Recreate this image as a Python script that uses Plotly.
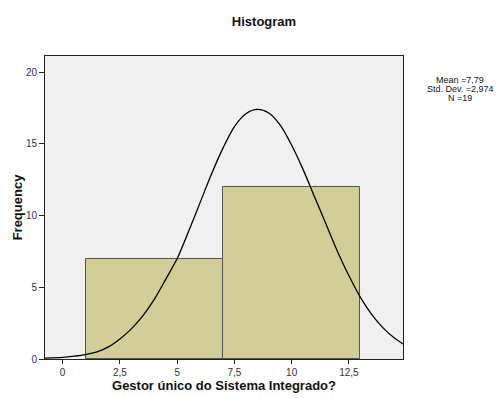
import plotly.graph_objects as go

# ---- data ----
bin_centers = [4.0, 10.0]
bin_width = 6.0
frequencies = [7, 12]

curve_x = [-0.77, 0.0, 0.5, 1.0, 1.5, 2.0, 2.5, 3.0, 3.5, 4.0, 4.5, 5.0, 5.5, 6.0, 6.5,
           7.0, 7.5, 8.0, 8.5, 9.0, 9.5, 10.0, 10.5, 11.0, 11.5, 12.0, 12.5, 13.0, 13.5,
           14.0, 14.5, 14.86]
curve_y = [0.06, 0.12, 0.2, 0.31, 0.5, 0.85, 1.4, 2.1, 3.0, 4.15, 5.55, 7.0, 8.9, 10.9, 12.9,
           14.7, 16.2, 17.1, 17.4, 17.15, 16.3, 14.9, 13.2, 11.3, 9.4, 7.5, 5.8, 4.3, 3.1,
           2.15, 1.44, 1.05]

x_tickvals = [0, 2.5, 5, 7.5, 10, 12.5]
x_ticktext = ["0", "2,5", "5", "7,5", "10", "12,5"]
y_tickvals = [0, 5, 10, 15, 20]

stats_lines = ["Mean =7,79", "Std. Dev. =2,974", "N =19"]

FONT = "Liberation Sans, Arial, sans-serif"

fig = go.Figure()
fig.add_trace(go.Bar(
    x=bin_centers, y=frequencies, width=[bin_width] * len(bin_centers),
    marker=dict(color="#D3CE98", line=dict(color="#555555", width=1)),
    hoverinfo="skip", showlegend=False,
))
fig.add_trace(go.Scatter(
    x=curve_x, y=curve_y, mode="lines",
    line=dict(color="#000000", width=1.3, shape="spline", smoothing=0.8),
    hoverinfo="skip", showlegend=False,
))

W, H = 502, 398
ml, mr, mt, mb = 45, 99, 56, 39

fig.update_layout(
    width=W, height=H,
    margin=dict(l=ml, r=mr, t=mt, b=mb, pad=0),
    paper_bgcolor="white", plot_bgcolor="#F0F0F0",
    bargap=0,
    font=dict(family=FONT, color="#222222", size=10),
    title=dict(text="<b>Histogram</b>", x=264 / W, xref="container", xanchor="center",
               y=1 - 21 / H, yref="container", yanchor="middle",
               font=dict(size=13, color="#111111", family=FONT)),
    xaxis=dict(range=[-0.77, 14.86], tickvals=x_tickvals, ticktext=x_ticktext,
               ticks="outside", ticklen=4, tickcolor="#222222", showgrid=False,
               zeroline=False, showline=True, linecolor="#222222", linewidth=1, mirror=True,
               tickfont=dict(size=10, color="#333333"), automargin=False,
               title=dict(text="<b>Gestor único do Sistema Integrado?</b>", standoff=3,
                          font=dict(size=13, color="#111111"))),
    yaxis=dict(range=[0, 21.12], tickvals=y_tickvals,
               ticks="outside", ticklen=5, tickcolor="#222222", showgrid=False,
               zeroline=False, showline=True, linecolor="#222222", linewidth=1, mirror=True,
               tickfont=dict(size=10, color="#333333"), automargin=False,
               title=dict(text="<b>Frequency</b>", standoff=0,
                          font=dict(size=13, color="#111111"))),
)

plot_w = W - ml - mr
plot_h = H - mt - mb
for i, txt in enumerate(stats_lines):
    py = 80 + i * 9
    fig.add_annotation(
        text=txt, xref="paper", yref="paper",
        x=(460 - ml) / plot_w, y=(H - mb - py) / plot_h,
        xanchor="center", yanchor="middle", showarrow=False,
        font=dict(size=9, color="#111111", family=FONT),
    )

fig.write_html("out.html")
